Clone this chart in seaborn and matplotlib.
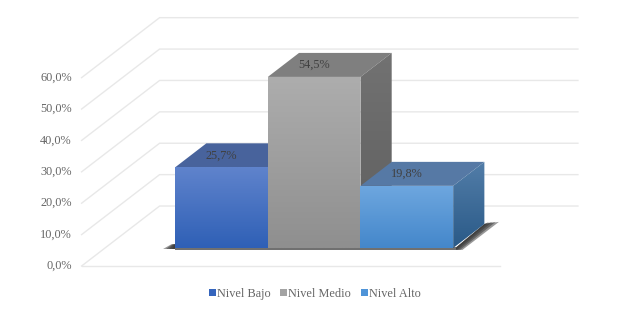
import numpy as np
import pandas as pd
import matplotlib
matplotlib.use("Agg")
import matplotlib.pyplot as plt
from matplotlib.colors import LinearSegmentedColormap
from matplotlib.patches import Polygon
import seaborn as sns

niveles = ["Nivel Bajo", "Nivel Medio", "Nivel Alto"]
valores = [25.7, 54.5, 19.8]
ticks = [0, 10, 20, 30, 40, 50, 60]
etiquetas = ["25,7%", "54,5%", "19,8%"]
tick_labels = ["0,0%", "10,0%", "20,0%", "30,0%", "40,0%", "50,0%", "60,0%"]
colores = ["#3565bd", "#a3a3a3", "#4f94d8"]

# gradient pairs (top colour, bottom colour)
frente = [("#5f83cc", "#2f60b6"), ("#adadad", "#8f8f8f"), ("#6ea7df", "#4487cb")]
lado = [("#46609a", "#2c4f90"), ("#727272", "#5e5e5e"), ("#527da8", "#2a5a88")]
tapa = ["#48639c", "#7f7f7f", "#5679a5"]

PX_X = 92.67  # pixels per category
PX_Y = 3.14   # pixels per percent
DX = 78 / PX_X
DY = 60 / PX_Y
WALL_FRONT, WALL_BACK = -0.3, 0.7
BAR_DEPTH = 0.4
XL, XR = -1.257, 3.257


def proj(x, v, d):
    return x + d * DX, v + d * DY


def grad_poly(ax, verts, c1, c2, z):
    verts = np.array(verts)
    cmap = LinearSegmentedColormap.from_list("g", [c2, c1])
    ext = [verts[:, 0].min(), verts[:, 0].max(), verts[:, 1].min(), verts[:, 1].max()]
    im = ax.imshow(np.linspace(1, 0, 64).reshape(-1, 1), cmap=cmap, extent=ext,
                   aspect="auto", zorder=z, interpolation="bilinear")
    p = Polygon(verts, transform=ax.transData, facecolor="none", edgecolor="none")
    ax.add_patch(p)
    im.set_clip_path(p)


df = pd.DataFrame({"nivel": niveles, "valor": valores})

plt.rcParams["font.family"] = ["Liberation Serif", "DejaVu Serif"]
fig = plt.figure(figsize=(6.26, 3.13), dpi=100)
ax = fig.add_axes([0, 0, 1, 1])
sns.barplot(data=df, x="nivel", y="valor", hue="nivel", palette=colores, width=1,
            dodge=False, ax=ax, saturation=1, zorder=10, legend=True)

# walls and grid
for t, lab in zip(ticks, tick_labels):
    a = proj(XL, t, WALL_FRONT)
    b = proj(XL, t, WALL_BACK)
    c = proj(XR, t, WALL_BACK)
    ax.plot([a[0], b[0], c[0]], [a[1], b[1], c[1]], color="#e8e8e8", lw=1.0, zorder=1)
    ax.annotate(lab, a, xytext=(-7, 0), textcoords="offset points", ha="right",
                va="center", fontsize=8.8, color="#666666")
f1 = proj(XL, 0, WALL_FRONT)
f2 = proj(XR, 0, WALL_FRONT)
ax.plot([f1[0], f2[0]], [f1[1], f2[1]], color="#e8e8e8", lw=1.0, zorder=1)

bars = [p for p in ax.patches][:3]
x_min = bars[0].get_x()
x_max = bars[-1].get_x() + bars[-1].get_width()

# floor shadow, stacked layers so it fades outward
for k in [1.0, 0.75, 0.5, 0.25]:
    ax.add_patch(Polygon([proj(x_max, 0, BAR_DEPTH), proj(x_max + 0.14 * k, 0.3, BAR_DEPTH + 0.02),
                          proj(x_max + 0.1 * k, -0.6, 0), proj(x_max, -0.6, 0)],
                         facecolor="#333333", edgecolor="none", alpha=0.5, zorder=2))
    ax.add_patch(Polygon([(x_min, 0.3), (x_min, 1.2), (x_min - 0.04 * k, 1.2), (x_min - 0.13 * k, -0.3), (x_min, -0.3)],
                         facecolor="#333333", edgecolor="none", alpha=0.5, zorder=2))
ax.fill_between([x_min, x_max + 0.03], -0.6, 0.2, color="#707070", lw=0, zorder=2)

for i, b in enumerate(bars):
    z = 10 + i * 3
    x0 = b.get_x()
    x1 = x0 + b.get_width()
    h = b.get_height()
    b.set_zorder(z)
    # top
    ax.add_patch(Polygon([(x0, h), (x1, h), proj(x1, h, BAR_DEPTH), proj(x0, h, BAR_DEPTH)],
                         facecolor=tapa[i], edgecolor="none", zorder=z))
    # side
    grad_poly(ax, [(x1, 0), (x1, h), proj(x1, h, BAR_DEPTH), proj(x1, 0, BAR_DEPTH)],
              lado[i][0], lado[i][1], z)
    # front
    grad_poly(ax, [(x0, 0), (x1, 0), (x1, h), (x0, h)], frente[i][0], frente[i][1], z + 1)
    ax.annotate(etiquetas[i], (x0 + 0.5, h), xytext=(0, 8.5), textcoords="offset points",
                ha="center", va="center", fontsize=8.8, color="#404040", zorder=30)

ax.set_xlim(-2.39, 4.365)
ax.set_ylim(-20.7, 79)
ax.set_axis_off()

sns.move_legend(ax, "center", bbox_to_anchor=(0.503, 0.062), ncol=3, title=None,
                frameon=False, fontsize=8.8, handlelength=0.55, handleheight=0.55,
                handletextpad=0.1, columnspacing=0.8, labelcolor="#666666")

fig.savefig("out.png", dpi=100)
